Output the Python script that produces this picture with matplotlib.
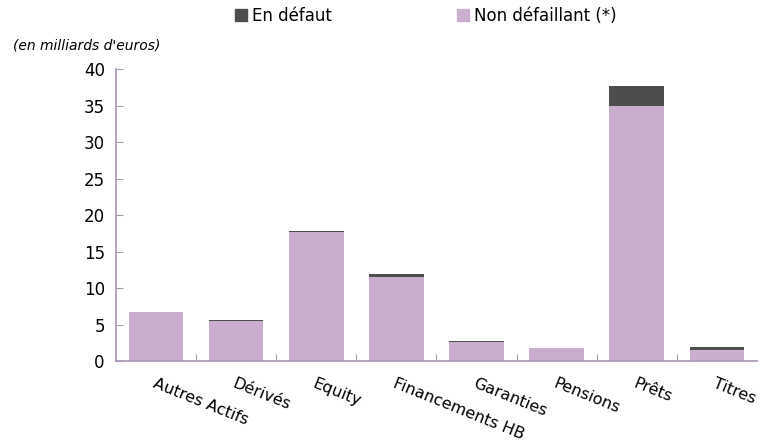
import numpy as np
import matplotlib
matplotlib.use("Agg")
import matplotlib.pyplot as plt
from matplotlib.patches import Patch

# categories and values (milliards d'euros)
categories = ["Autres Actifs", "Dérivés", "Equity", "Financements HB",
              "Garanties", "Pensions", "Prêts", "Titres"]
non_defaillant = [6.7, 5.45, 17.7, 11.6, 2.6, 1.75, 35.0, 1.6]
en_defaut = [0.0, 0.15, 0.1, 0.3, 0.15, 0.0, 2.7, 0.3]

col_non = "#c9aecd"
col_def = "#4d4d4d"
col_axis = "#a796b4"

plt.rcParams["font.family"] = "DejaVu Sans"

fig = plt.figure(figsize=(7.63, 4.46), dpi=100)
ax = fig.add_axes([0.152, 0.19, 0.84, 0.655])

x = np.arange(len(categories))
ax.bar(x, non_defaillant, width=0.68, color=col_non, label="Non défaillant (*)")
ax.bar(x, en_defaut, width=0.68, bottom=non_defaillant, color=col_def, label="En défaut")

ax.set_xlim(-0.5, len(categories) - 0.5)
ax.set_ylim(0, 40)
ax.set_yticks(np.arange(0, 41, 5))
ax.tick_params(axis="y", direction="in", length=5, color=col_axis, labelsize=12, pad=8)

# ticks between categories on x, labels rotated
ax.set_xticks(x[:-1] + 0.5)
ax.set_xticklabels([])
ax.tick_params(axis="x", direction="in", length=5, color=col_axis)
for xi, name in zip(x, categories):
    ax.text(xi, -2.0, name, rotation=-22, ha="left", va="top",
            rotation_mode="anchor", fontsize=11.5, transform=ax.transData)

for s in ["top", "right"]:
    ax.spines[s].set_visible(False)
for s in ["left", "bottom"]:
    ax.spines[s].set_color(col_axis)
    ax.spines[s].set_linewidth(1.2)

handles = [Patch(color=col_def, label="En défaut"),
           Patch(color=col_non, label="Non défaillant (*)")]
fig.legend(handles=handles, loc="center", bbox_to_anchor=(0.558, 0.965), ncol=2,
           frameon=False, fontsize=12, handlelength=0.7, handleheight=0.7,
           handletextpad=0.3, columnspacing=7.5)

fig.text(0.017, 0.89, "(en milliards d'euros)", fontsize=10, style="italic")

fig.savefig("out.png", dpi=100)
